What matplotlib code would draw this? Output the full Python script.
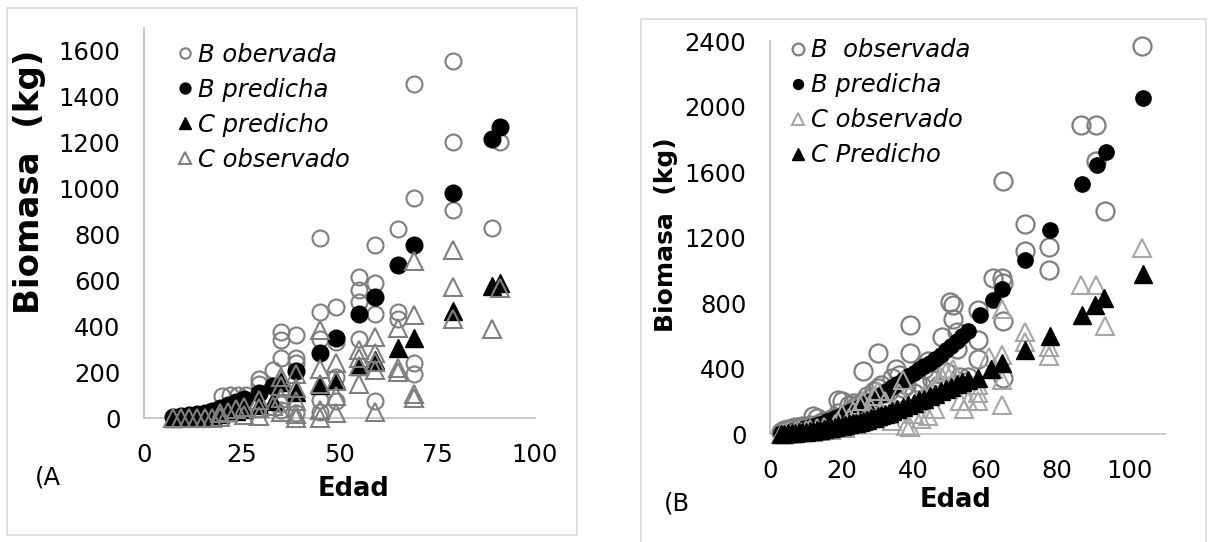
import matplotlib
matplotlib.use("Agg")
import matplotlib.pyplot as plt
from matplotlib.patches import Rectangle

plt.rcParams['font.family'] = ['DejaVu Sans']

# ---------------- data: panel A ----------------
a_bobs_x = [8, 10, 12, 14, 16, 18, 20, 22, 24, 26, 29.5, 29.5, 33, 35, 35, 35, 35, 35,
            39, 39, 39, 39, 45, 45, 45, 45, 45, 49, 49, 49, 49, 55, 55, 55, 55,
            59, 59, 59, 59, 65, 65, 65, 69, 69, 69, 69, 79, 79, 79, 89, 91]
a_bobs_y = [2, 4, 6, 10, 15, 25, 95, 100, 100, 100, 170, 150, 210, 375, 340, 260, 60, 35,
            360, 260, 238, 22, 785, 460, 345, 80, 25, 485, 330, 180, 75, 615, 560, 505, 345,
            755, 590, 455, 75, 825, 460, 432, 1455, 958, 238, 190, 1555, 1205, 908, 828, 1205]

a_bpred_x = [7.5, 9.5, 11.5, 13.5, 15.5, 17.5, 19.5, 21.5, 23.5, 25.5, 29.5, 33,
             39, 45, 49, 55, 59, 65, 69, 79, 89, 91]
a_bpred_y = [5, 8, 12, 16, 22, 30, 45, 58, 68, 82, 108, 138,
             203, 282, 347, 454, 528, 665, 752, 982, 1218, 1270]

a_cpred_x = [7.5, 9.5, 11.5, 13.5, 15.5, 17.5, 19.5, 21.5, 23.5, 25.5, 29.5, 33,
             35, 39, 45, 49, 55, 59, 65, 69, 79, 89, 91]
a_cpred_y = [2, 3, 5, 7, 9, 12, 18, 24, 30, 38, 55, 75,
             155, 115, 145, 165, 225, 255, 305, 350, 465, 575, 590]

a_cobs_x = [7.5, 9.5, 11.5, 13.5, 15.5, 17.5, 19.5, 19.5, 21.5, 23.5, 25.5, 25.5,
            29.5, 29.5, 29.5, 33, 35, 35, 35, 35, 39, 39, 39, 39, 39,
            45, 45, 45, 45, 45, 49, 49, 49, 49, 55, 55, 55, 55,
            59, 59, 59, 59, 59, 65, 65, 65, 69, 69, 69, 69, 79, 79, 79, 89, 91]
a_cobs_y = [0, 0, 0, 0, 0, 0, 22, 5, 28, 38, 48, 15,
            78, 42, 8, 52, 178, 138, 88, 25, 190, 130, 72, 18, 0,
            385, 215, 148, 35, 0, 238, 160, 95, 22, 298, 262, 225, 148,
            355, 285, 245, 210, 25, 392, 220, 200, 685, 448, 105, 88, 732, 570, 430, 390, 568]

# ---------------- data: panel B ----------------
b_bobs_x = [3, 4, 5, 6, 7, 8, 9, 10, 11, 12, 13, 14, 15, 16, 17, 18, 19, 19, 20, 21,
            22, 23, 24, 25, 26, 26, 27, 28, 29, 30, 30, 31, 32, 33, 34, 35, 36, 37, 38,
            39, 39, 40, 41, 42, 43, 44, 45, 46, 47, 48, 49, 50, 51, 51, 52, 52, 53, 54,
            55, 58, 58, 58, 62, 64.5, 65, 65, 65, 65, 71, 71, 77.6, 77.6,
            86.5, 90.7, 90.7, 93.2, 103.6]
b_bobs_y = [15, 25, 30, 35, 40, 45, 50, 45, 55, 110, 95, 70, 80, 75, 90, 100, 210, 130, 200, 120,
            180, 190, 170, 160, 384, 200, 230, 220, 260, 495, 280, 300, 250, 260, 340, 394, 360, 280, 300,
            668, 495, 250, 320, 300, 400, 445, 330, 260, 300, 590, 380, 805, 790, 700, 520, 620, 350, 320,
            350, 755, 575, 460, 950, 950, 1545, 920, 690, 340, 1285, 1115, 1140, 1000,
            1885, 1885, 1665, 1360, 2370]

b_bpred_x = [3, 4, 5, 6, 7, 8, 9, 10, 11, 12, 13, 14, 15, 16, 17, 18, 19, 20, 21, 22,
             23, 24, 25, 26, 27, 28, 29.5, 31, 32.5, 34, 35.5, 37, 38.5, 40, 41.5, 43,
             44.5, 46, 47.5, 49, 50.5, 52, 53.5, 55, 58.5, 62, 64.5, 71, 78, 87, 91, 93.5, 104]
b_bpred_y = [5, 8, 12, 16, 20, 25, 30, 36, 42, 48, 55, 62, 70, 78, 86, 95, 104, 113, 123, 133,
             144, 155, 166, 178, 190, 203, 220, 240, 262, 285, 305, 330, 355, 375, 395, 415,
             435, 460, 485, 510, 540, 570, 600, 630, 725, 820, 885, 1062, 1245, 1525, 1645, 1722, 2050]

b_cobs_x = [3, 4, 5, 6, 7, 8, 9, 10, 11, 12, 13, 14, 15, 16, 17, 18, 19, 20, 21, 22,
            23, 24, 25, 26, 27, 28, 29, 30, 31, 32, 33, 34, 35, 36, 37, 38, 39, 40, 41,
            42, 43, 44, 45, 46, 47, 48, 49, 50, 51, 52, 53, 54, 55, 58, 58, 58, 61, 62,
            64.5, 64.5, 64.5, 64.5, 71, 71, 77.8, 77.8, 86.5, 90.7, 93.2, 103.6]
b_cobs_y = [0, 5, 10, 5, 15, 20, 10, 25, 30, 15, 35, 20, 40, 30, 25, 60, 80, 120, 35, 100,
            140, 60, 180, 200, 120, 160, 230, 260, 140, 200, 120, 80, 150, 250, 330, 50, 40, 120, 200,
            90, 240, 110, 260, 150, 330, 350, 380, 300, 400, 350, 200, 150, 200, 300, 250, 200, 470, 400,
            765, 480, 330, 180, 620, 560, 530, 475, 910, 910, 658, 1135]

b_cpred_x = [3, 4, 5, 6, 7, 8, 9, 10, 11, 12, 13, 14, 15, 16, 17, 18, 19, 20, 21, 22,
             23, 24, 25, 26, 27, 28, 29, 30, 31, 32, 33, 34, 35.5, 37, 38.5, 40, 41.5, 43,
             44.5, 46, 47.5, 49, 50.5, 52, 53.5, 55, 58, 61.5, 64.5, 71, 78, 87, 90.5, 93, 104]
b_cpred_y = [2, 3, 4, 6, 8, 10, 12, 15, 17, 20, 23, 26, 30, 34, 38, 42, 46, 50, 55, 60,
             65, 70, 76, 82, 88, 95, 100, 108, 115, 122, 130, 138, 150, 165, 175, 190, 205, 215,
             230, 245, 260, 275, 290, 305, 320, 330, 345, 395, 435, 515, 597, 728, 790, 830, 980]

a_xticks = [0, 25, 50, 75, 100]
a_yticks = [0, 200, 400, 600, 800, 1000, 1200, 1400, 1600]
b_xticks = [0, 20, 40, 60, 80, 100]
b_yticks = [0, 400, 800, 1200, 1600, 2000, 2400]

W, H = 1210, 542
GRAY = "#7f7f7f"
LGRAY = "#a6a6a6"
TICK_FS = 17.5

fig = plt.figure(figsize=(W / 100, H / 100), dpi=100)

# panel frames
fig.patches.append(Rectangle((7 / W, 1 - 535 / H), 570 / W, 527 / H, transform=fig.transFigure,
                             fill=False, edgecolor="#d9d9d9", linewidth=1.2))
fig.patches.append(Rectangle((641 / W, -0.02), 565 / W, 1 - 19 / H + 0.02, transform=fig.transFigure,
                             fill=False, edgecolor="#d9d9d9", linewidth=1.2))

axA = fig.add_axes([144 / W, 1 - 418 / H, 391 / W, 390 / H])
axB = fig.add_axes([770 / W, 1 - 434 / H, 395 / W, 393 / H])

kw = dict(linestyle="none", clip_on=False, zorder=3)

# panel A (series order as in Excel)
axA.plot(a_bobs_x, a_bobs_y, marker="o", ms=11.5, mfc="none", mec=GRAY, mew=1.5,
         label="B obervada", **kw)
axA.plot(a_bpred_x, a_bpred_y, marker="o", ms=12, mfc="black", mec="black", mew=1,
         label="B predicha", **kw)
axA.plot(a_cpred_x, a_cpred_y, marker="^", ms=13.5, mfc="black", mec="black", mew=1,
         label="C predicho", **kw)
axA.plot(a_cobs_x, a_cobs_y, marker="^", ms=13.5, mfc="none", mec=GRAY, mew=1.5,
         label="C observado", **kw)

# panel B
axB.plot(b_bobs_x, b_bobs_y, marker="o", ms=13, mfc="none", mec=GRAY, mew=1.6,
         label="B  observada", **kw)
axB.plot(b_bpred_x, b_bpred_y, marker="o", ms=11, mfc="black", mec="black", mew=1,
         label="B predicha", **kw)
axB.plot(b_cobs_x, b_cobs_y, marker="^", ms=13.5, mfc="none", mec=LGRAY, mew=1.5,
         label="C observado", **kw)
axB.plot(b_cpred_x, b_cpred_y, marker="^", ms=13, mfc="black", mec="black", mew=1,
         label="C Predicho", **kw)

for ax, xt, yt, xl, yl in [(axA, a_xticks, a_yticks, (0, 100), (0, 1700)),
                           (axB, b_xticks, b_yticks, (0, 110), (0, 2400))]:
    ax.set_xlim(*xl)
    ax.set_ylim(*yl)
    ax.set_xticks(xt)
    ax.set_yticks(yt)
    for s in ["top", "right"]:
        ax.spines[s].set_visible(False)
    for s in ["left", "bottom"]:
        ax.spines[s].set_color("#bfbfbf")
        ax.spines[s].set_linewidth(1.2)
        ax.spines[s].set_zorder(1)
    ax.tick_params(length=0, labelsize=TICK_FS, colors="black")
    ax.tick_params(axis="y", pad=17)
    ax.tick_params(axis="x", pad=18)
    ax.set_facecolor("none")

# legends
legkw = dict(frameon=False, loc="upper left", borderpad=0, borderaxespad=0,
             handlelength=0.45, handletextpad=0.3, labelspacing=0.45, markerscale=0.65,
             prop={"style": "italic", "size": TICK_FS})
axA.legend(bbox_to_anchor=(0.091, 0.962), **legkw)
axB.legend(bbox_to_anchor=(0.057, 1.007), **legkw)

# axis titles
fig.text(30 / W, 1 - 182 / H, "Biomasa  (kg)", rotation=90, ha="center", va="center",
         fontsize=24.5, weight="bold")
fig.text(666 / W, 1 - 235 / H, "Biomasa  (kg)", rotation=90, ha="center", va="center",
         fontsize=18, weight="bold")
fig.text(353 / W, 1 - 489 / H, "Edad", ha="center", va="center", fontsize=18.5, weight="bold")
fig.text(956 / W, 1 - 500 / H, "Edad", ha="center", va="center", fontsize=18.5, weight="bold")

# panel tags
fig.text(35 / W, 1 - 477 / H, "(A", ha="left", va="center", fontsize=TICK_FS)
fig.text(664 / W, 1 - 504 / H, "(B", ha="left", va="center", fontsize=TICK_FS)

fig.savefig("out.png", dpi=100, facecolor="white")
